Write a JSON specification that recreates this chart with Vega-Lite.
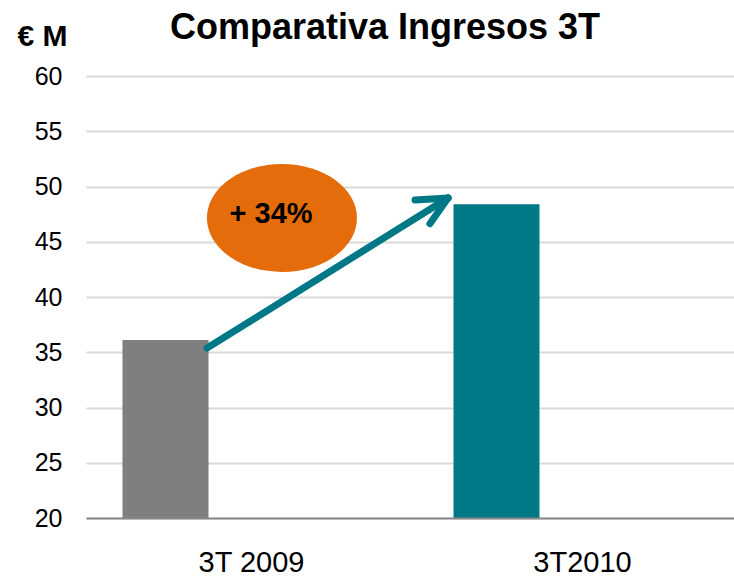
{
  "$schema": "https://vega.github.io/schema/vega-lite/v6.json",
  "autosize": {"type": "none"},
  "width": 648,
  "height": 442,
  "padding": {"left": 86, "top": 76, "right": 0, "bottom": 59},
  "background": "white",
  "config": {
    "font": "Liberation Sans",
    "view": {"stroke": null}
  },
  "title": {
    "text": "Comparativa Ingresos 3T",
    "fontSize": 36,
    "fontWeight": "bold",
    "font": "Liberation Sans",
    "color": "#000000",
    "anchor": "middle",
    "frame": "group",
    "baseline": "alphabetic",
    "offset": 0,
    "dx": -25,
    "dy": 54
  },
  "datasets": {
    "bars": [
      {"periodo": "3T 2009", "serie": "a", "ingresos": 36.1},
      {"periodo": "3T2010", "serie": "a", "ingresos": 48.4}
    ],
    "arrow": [
      {"x": 0.3656, "ingresos": 35.38, "x2": 1.0937, "y2": 48.96},
      {"x": 0.994, "ingresos": 48.78, "x2": 1.0937, "y2": 48.96},
      {"x": 1.039, "ingresos": 46.63, "x2": 1.0937, "y2": 48.96}
    ],
    "badge": [
      {"x": 0.592, "ingresos": 47.15, "tx": 0.559, "ty": 46.7, "label": "+ 34%"}
    ]
  },
  "layer": [
    {
      "data": {"name": "bars"},
      "mark": {"type": "bar", "clip": true},
      "encoding": {
        "x": {
          "field": "periodo",
          "type": "nominal",
          "sort": null,
          "scale": {"range": [0, 662], "paddingInner": 0, "paddingOuter": 0},
          "axis": {
            "title": null,
            "labelAngle": 0,
            "labelFontSize": 29,
            "labelColor": "#000000",
            "labelPadding": 30,
            "ticks": false,
            "domainColor": "#898989",
            "domainWidth": 2,
            "grid": false,
            "zindex": 1
          }
        },
        "xOffset": {
          "field": "serie",
          "type": "nominal",
          "scale": {"domain": ["a", "b", "c"], "paddingInner": 0, "paddingOuter": 0.4244}
        },
        "y": {
          "field": "ingresos",
          "type": "quantitative",
          "scale": {"domain": [20, 60], "nice": false, "zero": false},
          "axis": {
            "values": [20, 25, 30, 35, 40, 45, 50, 55, 60],
            "title": "€ M",
            "titleAngle": 0,
            "titleFontSize": 30,
            "titleFontWeight": "bold",
            "titleColor": "#000000",
            "titleAlign": "center",
            "titleBaseline": "alphabetic",
            "titleX": -44,
            "titleY": -31,
            "labelFontSize": 25,
            "labelColor": "#000000",
            "labelPadding": 24,
            "ticks": false,
            "domain": false,
            "grid": true,
            "gridColor": "#D9D9D9",
            "gridWidth": 2
          }
        },
        "color": {
          "field": "periodo",
          "type": "nominal",
          "scale": {"domain": ["3T 2009", "3T2010"], "range": ["#7F7F7F", "#007885"]},
          "legend": null
        }
      }
    },
    {
      "data": {"name": "badge"},
      "mark": {
        "type": "point",
        "shape": "M-1,0A1,0.72,0,1,1,1,0A1,0.72,0,1,1,-1,0Z",
        "size": 22500,
        "filled": true,
        "opacity": 1,
        "color": "#E46C0A"
      },
      "encoding": {
        "x": {"field": "x", "type": "quantitative", "scale": {"domain": [0, 2], "range": [0, 662]}, "axis": null},
        "y": {"field": "ingresos", "type": "quantitative"}
      }
    },
    {
      "data": {"name": "badge"},
      "mark": {
        "type": "text",
        "fontSize": 29,
        "fontWeight": "bold",
        "color": "#000000",
        "align": "center",
        "baseline": "alphabetic"
      },
      "encoding": {
        "x": {"field": "tx", "type": "quantitative", "scale": {"domain": [0, 2], "range": [0, 662]}, "axis": null},
        "y": {"field": "ty", "type": "quantitative"},
        "text": {"field": "label"}
      }
    },
    {
      "data": {"name": "arrow"},
      "mark": {"type": "rule", "color": "#007885", "strokeWidth": 7, "strokeCap": "round"},
      "encoding": {
        "x": {"field": "x", "type": "quantitative", "scale": {"domain": [0, 2], "range": [0, 662]}, "axis": null},
        "x2": {"field": "x2"},
        "y": {"field": "ingresos", "type": "quantitative"},
        "y2": {"field": "y2"}
      }
    }
  ],
  "resolve": {"scale": {"x": "independent"}, "axis": {"x": "independent"}}
}
